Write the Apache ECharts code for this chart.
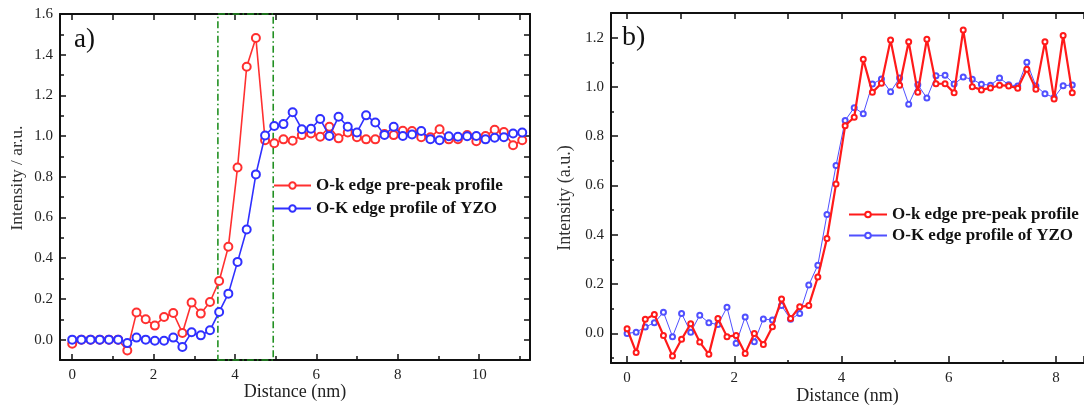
<!DOCTYPE html>
<html>
<head>
<meta charset="utf-8">
<script src="https://cdn.jsdelivr.net/npm/echarts@6/dist/echarts.min.js"></script>
<style>
html,body{margin:0;padding:0;background:#fff;overflow:hidden;}
#c{width:1084px;height:407px;}
</style>
</head>
<body>
<div id="c"></div>
<script>
// ---------- data ----------
const seriesNames = ['O-k edge pre-peak profile', 'O-K edge profile of YZO'];
// panel a
const distA = [0, 0.226, 0.451, 0.677, 0.903, 1.129, 1.354, 1.580, 1.806, 2.031,
  2.257, 2.483, 2.708, 2.934, 3.160, 3.386, 3.611, 3.837, 4.063, 4.288,
  4.514, 4.740, 4.965, 5.191, 5.417, 5.643, 5.868, 6.094, 6.320, 6.545,
  6.771, 6.997, 7.222, 7.448, 7.674, 7.900, 8.125, 8.351, 8.577, 8.802,
  9.028, 9.254, 9.479, 9.705, 9.931, 10.157, 10.382, 10.608, 10.834, 11.059];
const prePeakA = [-0.02, 0, 0, 0, 0, 0, -0.053, 0.133, 0.10, 0.069,
  0.111, 0.131, 0.033, 0.182, 0.128, 0.185, 0.288, 0.456, 0.846, 1.341,
  1.482, 0.98, 0.965, 0.984, 0.977, 1.005, 1.013, 0.997, 1.046, 0.989,
  1.018, 0.994, 0.984, 0.984, 1.01, 1.005, 1.026, 1.025, 0.994, 0.994,
  1.034, 0.984, 0.985, 1.005, 0.975, 1.001, 1.031, 1.02, 0.955, 0.98];
const yzoA = [0, 0, 0, 0, 0, 0, -0.017, 0.01, 0, -0.005,
  -0.005, 0.01, -0.036, 0.036, 0.021, 0.046, 0.136, 0.226, 0.382, 0.541,
  0.812, 1.003, 1.05, 1.059, 1.117, 1.034, 1.036, 1.084, 1.001, 1.095,
  1.046, 1.018, 1.102, 1.067, 1.006, 1.046, 1.001, 1.008, 1.025, 0.985,
  0.98, 0.999, 0.997, 0.999, 1.001, 0.984, 0.992, 0.994, 1.013, 1.018];
const boxA = [3.58, 4.94];   // dash-dot interface window (nm)
// panel b
const distB = [0, 0.169, 0.339, 0.508, 0.678, 0.847, 1.016, 1.186, 1.355, 1.525,
  1.694, 1.863, 2.033, 2.202, 2.372, 2.541, 2.710, 2.880, 3.049, 3.219,
  3.388, 3.557, 3.727, 3.896, 4.066, 4.235, 4.404, 4.574, 4.743, 4.913,
  5.082, 5.251, 5.421, 5.590, 5.760, 5.929, 6.098, 6.268, 6.437, 6.607,
  6.776, 6.945, 7.115, 7.284, 7.454, 7.623, 7.792, 7.962, 8.131, 8.301];
const prePeakB = [0.019, -0.077, 0.057, 0.077, -0.008, -0.092, -0.024, 0.039, -0.035, -0.085,
  0.061, -0.013, -0.008, -0.081, 0.0, -0.045, 0.027, 0.14, 0.061, 0.108,
  0.113, 0.229, 0.385, 0.606, 0.843, 0.877, 1.112, 0.978, 1.015, 1.19,
  1.007, 1.183, 0.978, 1.194, 1.013, 1.013, 0.976, 1.231, 1.001, 0.988,
  0.996, 1.007, 1.004, 0.995, 1.072, 0.991, 1.183, 0.951, 1.209, 0.976];
const yzoB = [0.0, 0.005, 0.026, 0.043, 0.086, -0.013, 0.081, 0.005, 0.074, 0.043,
  0.036, 0.106, -0.04, 0.067, -0.034, 0.059, 0.054, 0.113, 0.057, 0.081,
  0.196, 0.277, 0.482, 0.681, 0.864, 0.916, 0.891, 1.012, 1.032, 0.98,
  1.036, 0.93, 1.009, 0.955, 1.045, 1.047, 1.012, 1.04, 1.031, 1.011,
  1.007, 1.036, 1.009, 1.004, 1.1, 1.004, 0.972, 0.957, 1.005, 1.008];

// ---------- chart ----------
const SERIF = '"Liberation Serif", "Times New Roman", serif';
const pairs = (xs, ys) => xs.map((x, i) => [x, ys[i]]);
const isMult = (v, step) => Math.abs(v / step - Math.round(v / step)) < 1e-6;

function bottomX(grid, min, max, step, tickLen, minorLen, nameGap) {
  return {
    type: 'value', gridIndex: grid, position: 'bottom', min: min, max: max,
    minInterval: step, maxInterval: step, splitNumber: 5,
    name: 'Distance (nm)', nameLocation: 'middle', nameGap: nameGap, nameMoveOverlap: false,
    nameTextStyle: {fontFamily: SERIF, fontSize: 18, color: '#222'},
    axisLine: {show: true, onZero: false, lineStyle: {color: '#111', width: 2}},
    axisTick: {show: true, inside: true, length: tickLen, lineStyle: {color: '#111', width: 1.5}},
    minorTick: {show: true, splitNumber: 2, length: minorLen, lineStyle: {color: '#111', width: 1.5}},
    axisLabel: {fontFamily: SERIF, fontSize: 15, color: '#222', margin: 8,
      formatter: v => isMult(v, step) ? String(Math.round(v)) : ''},
    splitLine: {show: false}, minorSplitLine: {show: false}
  };
}
function topX(grid, min, max, tickLen) {
  return {
    type: 'value', gridIndex: grid, position: 'top', min: min, max: max,
    minInterval: 1, maxInterval: 1, splitNumber: 10,
    axisLine: {show: true, onZero: false, lineStyle: {color: '#111', width: 2}},
    axisTick: {show: true, inside: true, length: tickLen, lineStyle: {color: '#111', width: 1.5}},
    axisLabel: {show: false}, splitLine: {show: false}
  };
}
function leftY(grid, min, max, name, nameGap, tickLen, minorLen, nameSize, namePad) {
  return {
    type: 'value', gridIndex: grid, position: 'left', min: min, max: max,
    minInterval: 0.2, maxInterval: 0.2, splitNumber: 7,
    name: name, nameLocation: 'middle', nameGap: nameGap, nameMoveOverlap: false,
    nameTextStyle: {fontFamily: SERIF, fontSize: nameSize, color: '#333', padding: namePad},
    axisLine: {show: true, onZero: false, lineStyle: {color: '#111', width: 2}},
    axisTick: {show: true, inside: true, length: tickLen, lineStyle: {color: '#111', width: 1.5}},
    minorTick: {show: true, splitNumber: 2, length: minorLen, lineStyle: {color: '#111', width: 1.5}},
    axisLabel: {fontFamily: SERIF, fontSize: 15, color: '#222', margin: 7,
      formatter: v => isMult(v, 0.2) ? v.toFixed(1) : ''},
    splitLine: {show: false}, minorSplitLine: {show: false}
  };
}

const redA = '#ff3030', blueA = '#3030ff', redB = '#ff1a1a', blueB = '#5050ff';

const option = {
  backgroundColor: '#fff',
  animation: false,
  grid: [
    {left: 60, top: 14, width: 470, height: 346, outerBoundsMode: 'none'},
    {left: 611, top: 13, right: 0, height: 350, outerBoundsMode: 'none'}
  ],
  xAxis: [
    bottomX(0, -0.3, 11.25, 2, 6, 4, 23),
    topX(0, -0.3, 11.25, 6),
    bottomX(1, -0.3, 8.52, 2, 7, 3, 24),
    topX(1, -0.3, 8.52, 6)
  ],
  yAxis: [
    leftY(0, -0.1, 1.6, 'Intensity / ar.u.', 34, 6, 4, 17.5, [0, 0, 0, 18]),
    {
      type: 'value', gridIndex: 0, position: 'right', min: -0.1, max: 1.6,
      minInterval: 0.1, maxInterval: 0.1, splitNumber: 17,
      axisLine: {show: true, onZero: false, lineStyle: {color: '#111', width: 2}},
      axisTick: {show: true, inside: true, length: 6, lineStyle: {color: '#111', width: 1.5}},
      axisLabel: {show: false}, splitLine: {show: false}
    },
    leftY(1, -0.12, 1.3, 'Intensity (a.u.)', 37, 7, 3, 18, [0, 20, 0, 0])
  ],
  legend: [
    {
      orient: 'vertical', left: 273, top: 177, padding: 0, itemGap: 6,
      itemWidth: 37, itemHeight: 8,
      textStyle: {fontFamily: SERIF, fontSize: 17, fontWeight: 'bold', color: '#111'},
      data: [seriesNames[0], seriesNames[1]]
    },
    {
      orient: 'vertical', left: 848, top: 206, padding: 0, itemGap: 4,
      itemWidth: 38, itemHeight: 7,
      textStyle: {fontFamily: SERIF, fontSize: 17, fontWeight: 'bold', color: '#111'},
      data: [seriesNames[0] + ' ', seriesNames[1] + ' ']
    }
  ],
  graphic: [
    {type: 'text', left: 74, top: 26, style: {text: 'a)', font: '27px ' + SERIF, fill: '#111'}},
    {type: 'text', left: 622, top: 24, style: {text: 'b)', font: '28px ' + SERIF, fill: '#111'}}
  ],
  series: [
    {
      name: seriesNames[0], type: 'line', xAxisIndex: 0, yAxisIndex: 0,
      data: pairs(distA, prePeakA),
      symbol: 'emptyCircle', symbolSize: 8, showAllSymbol: true,
      lineStyle: {color: redA, width: 1.6},
      itemStyle: {color: redA, borderWidth: 1.2},
      markArea: {
        silent: true,
        itemStyle: {color: 'rgba(0,0,0,0)', borderColor: '#229022', borderWidth: 1.6, borderType: [7, 3, 1.5, 3]},
        data: [[{xAxis: boxA[0], yAxis: -0.1}, {xAxis: boxA[1], yAxis: 1.6}]]
      },
      z: 3
    },
    {
      name: seriesNames[1], type: 'line', xAxisIndex: 0, yAxisIndex: 0,
      data: pairs(distA, yzoA),
      symbol: 'emptyCircle', symbolSize: 8, showAllSymbol: true,
      lineStyle: {color: blueA, width: 1.6},
      itemStyle: {color: blueA, borderWidth: 1.2},
      z: 4
    },
    {
      name: seriesNames[0] + ' ', type: 'line', xAxisIndex: 2, yAxisIndex: 2,
      data: pairs(distB, prePeakB),
      symbol: 'emptyCircle', symbolSize: 5, showAllSymbol: true,
      lineStyle: {color: redB, width: 2.2},
      itemStyle: {color: redB, borderWidth: 1.2},
      z: 3
    },
    {
      name: seriesNames[1] + ' ', type: 'line', xAxisIndex: 2, yAxisIndex: 2,
      data: pairs(distB, yzoB),
      symbol: 'emptyCircle', symbolSize: 5, showAllSymbol: true,
      lineStyle: {color: blueB, width: 1},
      itemStyle: {color: blueB, borderWidth: 1},
      z: 2
    }
  ]
};

const chart = echarts.init(document.getElementById('c'), null, {renderer: 'canvas'});
chart.setOption(option);
</script>
</body>
</html>
